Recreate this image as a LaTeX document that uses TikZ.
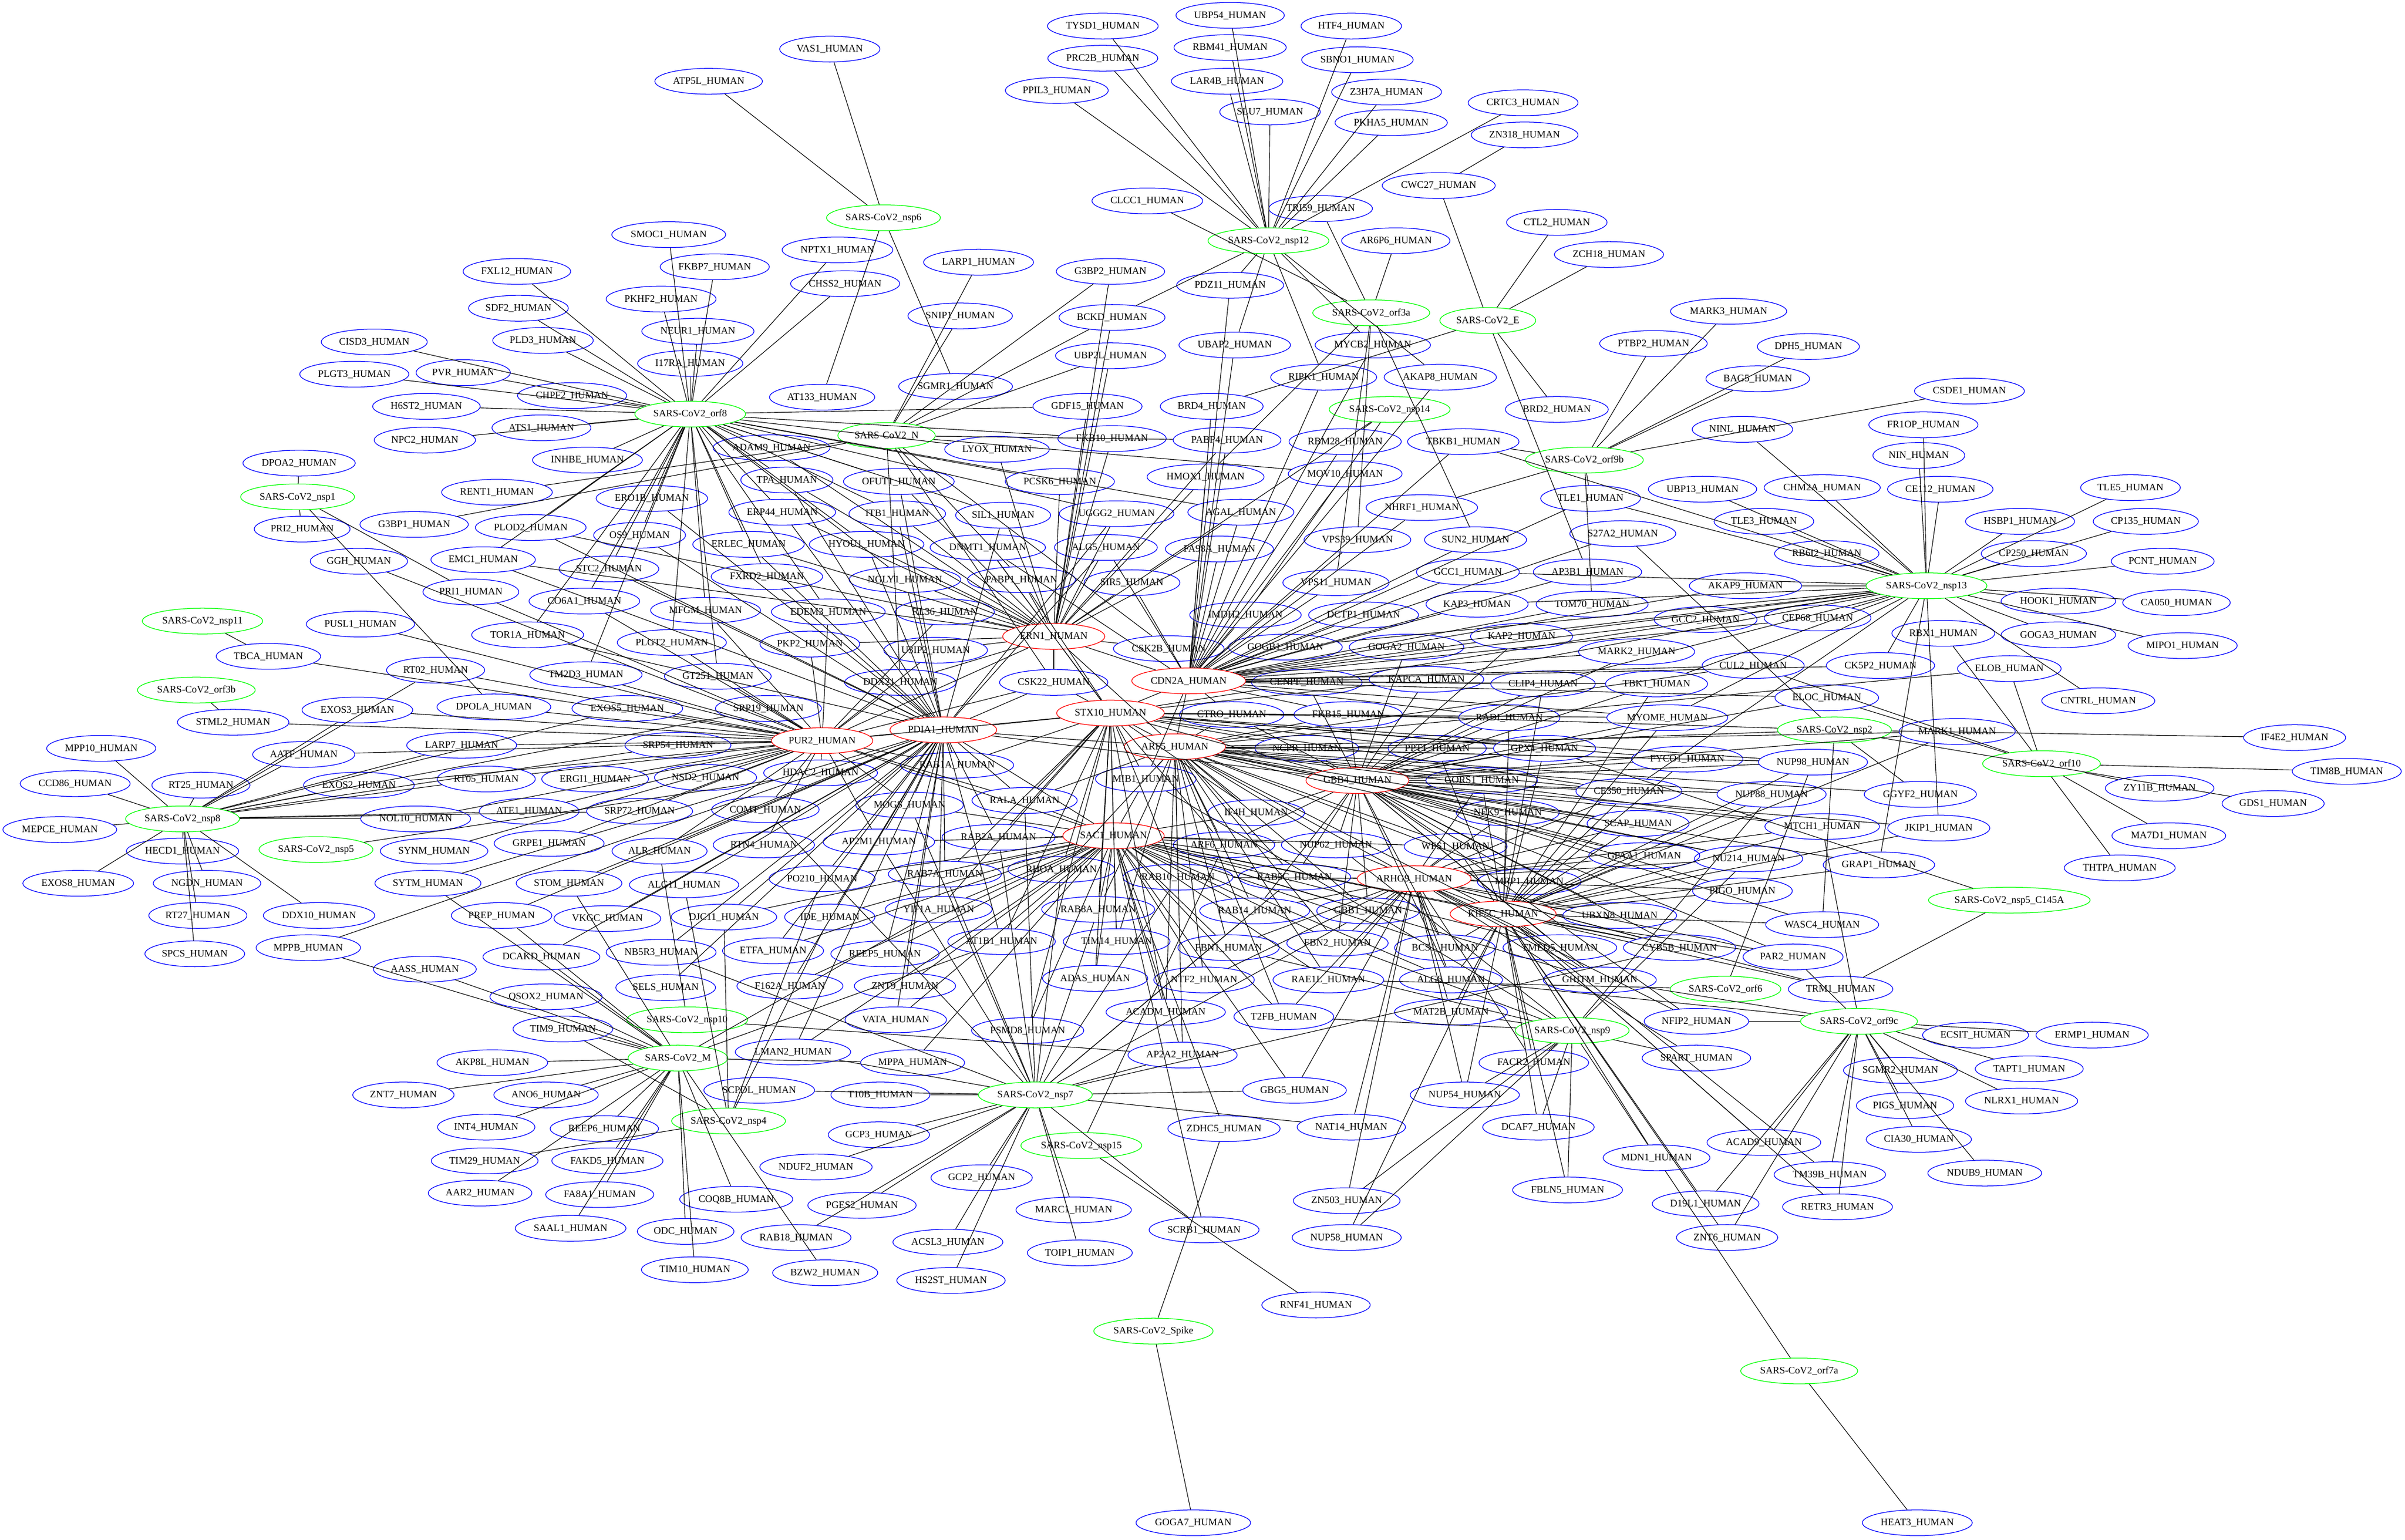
\documentclass[tikz,border=0pt]{standalone}
\usepackage{fontspec}
\setmainfont{Liberation Serif}
\usetikzlibrary{shapes.geometric}

\begin{document}
\begin{tikzpicture}[x=1pt,y=-1pt,
  prot/.style={ellipse,inner xsep=1.5pt,inner ysep=3.2pt,text height=4.6pt,text depth=0.9pt,
    font=\fontsize{6.5}{7}\selectfont,line width=0.45pt},
  hum/.style={prot,draw=blue},
  vir/.style={prot,draw=green},
  hub/.style={prot,draw=red},
  link/.style={line width=0.4pt}]
\useasboundingbox (0,0) rectangle (1568,1004);
% viral proteins
\node[vir] (vnsp6) at (576,142) {SARS-CoV2\_nsp6};
\node[vir] (vnsp12) at (827,157) {SARS-CoV2\_nsp12};
\node[vir] (vorf3a) at (894,204) {SARS-CoV2\_orf3a};
\node[vir] (vE) at (970,209) {SARS-CoV2\_E};
\node[vir] (vnsp14) at (906,267) {SARS-CoV2\_nsp14};
\node[vir] (vorf9b) at (1033,300) {SARS-CoV2\_orf9b};
\node[vir] (vnsp13) at (1256,382) {SARS-CoV2\_nsp13};
\node[vir] (vnsp2) at (1196,476) {SARS-CoV2\_nsp2};
\node[vir] (vorf10) at (1331,498) {SARS-CoV2\_orf10};
\node[vir] (vnsp5C) at (1310,587) {SARS-CoV2\_nsp5\_C145A};
\node[vir] (vorf6) at (1125,645) {SARS-CoV2\_orf6};
\node[vir] (vorf9c) at (1212,666) {SARS-CoV2\_orf9c};
\node[vir] (vnsp9) at (1025,672) {SARS-CoV2\_nsp9};
\node[vir] (vorf7a) at (1173,894) {SARS-CoV2\_orf7a};
\node[vir] (vSpike) at (752,868) {SARS-CoV2\_Spike};
\node[vir] (vnsp15) at (705,747) {SARS-CoV2\_nsp15};
\node[vir] (vnsp7) at (675,714) {SARS-CoV2\_nsp7};
\node[vir] (vnsp4) at (475,731) {SARS-CoV2\_nsp4};
\node[vir] (vM) at (442,690) {SARS-CoV2\_M};
\node[vir] (vnsp10) at (448,665) {SARS-CoV2\_nsp10};
\node[vir] (vnsp5) at (206,554) {SARS-CoV2\_nsp5};
\node[vir] (vnsp8) at (119,534) {SARS-CoV2\_nsp8};
\node[vir] (vorf3b) at (128,450) {SARS-CoV2\_orf3b};
\node[vir] (vnsp11) at (132,405) {SARS-CoV2\_nsp11};
\node[vir] (vnsp1) at (194,324) {SARS-CoV2\_nsp1};
\node[vir] (vorf8) at (450,270) {SARS-CoV2\_orf8};
\node[vir] (vN) at (578,284) {SARS-CoV2\_N};
% hub proteins
\node[hub] (PUR2) at (536,483) {PUR2\_HUMAN};
\node[hub] (PDIA1) at (615,476) {PDIA1\_HUMAN};
\node[hub] (ERN1) at (687,415) {ERN1\_HUMAN};
\node[hub] (CDN2A) at (775,444) {CDN2A\_HUMAN};
\node[hub] (STX10) at (724,465) {STX10\_HUMAN};
\node[hub] (ARF5) at (766,487) {ARF5\_HUMAN};
\node[hub] (SAC1) at (726,545) {SAC1\_HUMAN};
\node[hub] (GBB4) at (885,509) {GBB4\_HUMAN};
\node[hub] (ARHG9) at (922,573) {ARHG9\_HUMAN};
\node[hub] (KIF5C) at (980,596) {KIF5C\_HUMAN};
% human proteins, left and top
\node[hum] (ATP5L) at (462,53) {ATP5L\_HUMAN};
\node[hum] (VAS1) at (541,32) {VAS1\_HUMAN};
\node[hum] (SMOC1) at (436,153) {SMOC1\_HUMAN};
\node[hum] (NPTX1) at (546,163) {NPTX1\_HUMAN};
\node[hum] (FKBP7) at (466,174) {FKBP7\_HUMAN};
\node[hum] (CHSS2) at (551,185) {CHSS2\_HUMAN};
\node[hum] (LARP1) at (638,171) {LARP1\_HUMAN};
\node[hum] (PKHF2) at (431,195) {PKHF2\_HUMAN};
\node[hum] (SNIP1) at (626,206) {SNIP1\_HUMAN};
\node[hum] (NEUR1) at (455,216) {NEUR1\_HUMAN};
\node[hum] (I17RA) at (450,237) {I17RA\_HUMAN};
\node[hum] (SGMR1) at (623,252) {SGMR1\_HUMAN};
\node[hum] (AT133) at (536,259) {AT133\_HUMAN};
\node[hum] (FXL12) at (337,177) {FXL12\_HUMAN};
\node[hum] (SDF2) at (338,201) {SDF2\_HUMAN};
\node[hum] (CISD3) at (244,223) {CISD3\_HUMAN};
\node[hum] (PLD3) at (354,222) {PLD3\_HUMAN};
\node[hum] (PLGT3) at (231,244) {PLGT3\_HUMAN};
\node[hum] (PVR) at (302,243) {PVR\_HUMAN};
\node[hum] (CHPF2) at (373,258) {CHPF2\_HUMAN};
\node[hum] (H6ST2) at (278,265) {H6ST2\_HUMAN};
\node[hum] (ATS1) at (353,279) {ATS1\_HUMAN};
\node[hum] (NPC2) at (277,287) {NPC2\_HUMAN};
\node[hum] (INHBE) at (383,300) {INHBE\_HUMAN};
\node[hum] (DPOA2) at (195,302) {DPOA2\_HUMAN};
\node[hum] (RENT1) at (324,321) {RENT1\_HUMAN};
\node[hum] (ERO1B) at (425,325) {ERO1B\_HUMAN};
\node[hum] (PRI2) at (197,345) {PRI2\_HUMAN};
\node[hum] (G3BP1) at (270,342) {G3BP1\_HUMAN};
\node[hum] (PLOD2) at (346,344) {PLOD2\_HUMAN};
\node[hum] (OS9) at (417,349) {OS9\_HUMAN};
\node[hum] (GGH) at (234,366) {GGH\_HUMAN};
\node[hum] (EMC1) at (315,365) {EMC1\_HUMAN};
\node[hum] (STC2) at (397,371) {STC2\_HUMAN};
\node[hum] (PRI1) at (307,386) {PRI1\_HUMAN};
\node[hum] (CO6A1) at (381,392) {CO6A1\_HUMAN};
\node[hum] (PUSL1) at (235,407) {PUSL1\_HUMAN};
\node[hum] (TOR1A) at (344,414) {TOR1A\_HUMAN};
\node[hum] (TBCA) at (175,428) {TBCA\_HUMAN};
\node[hum] (RT02) at (284,437) {RT02\_HUMAN};
\node[hum] (TM2D3) at (382,440) {TM2D3\_HUMAN};
\node[hum] (DPOLA) at (322,461) {DPOLA\_HUMAN};
\node[hum] (EXOS3) at (233,463) {EXOS3\_HUMAN};
\node[hum] (STML2) at (152,471) {STML2\_HUMAN};
\node[hum] (EXOS5) at (409,462) {EXOS5\_HUMAN};
\node[hum] (MPP10) at (66,488) {MPP10\_HUMAN};
\node[hum] (LARP7) at (301,486) {LARP7\_HUMAN};
\node[hum] (AATF) at (198,492) {AATF\_HUMAN};
\node[hum] (CCD86) at (49,511) {CCD86\_HUMAN};
\node[hum] (RT25) at (131,512) {RT25\_HUMAN};
\node[hum] (EXOS2) at (234,512) {EXOS2\_HUMAN};
\node[hum] (RT05) at (317,508) {RT05\_HUMAN};
\node[hum] (ERGI1) at (388,508) {ERGI1\_HUMAN};
\node[hum] (MEPCE) at (39,541) {MEPCE\_HUMAN};
\node[hum] (NOL10) at (271,534) {NOL10\_HUMAN};
\node[hum] (ATE1) at (345,529) {ATE1\_HUMAN};
\node[hum] (SRP72) at (417,529) {SRP72\_HUMAN};
\node[hum] (HECD1) at (119,555) {HECD1\_HUMAN};
\node[hum] (SYNM) at (283,555) {SYNM\_HUMAN};
\node[hum] (GRPE1) at (358,550) {GRPE1\_HUMAN};
\node[hum] (EXOS8) at (51,576) {EXOS8\_HUMAN};
\node[hum] (NGDN) at (135,576) {NGDN\_HUMAN};
\node[hum] (SYTM) at (279,576) {SYTM\_HUMAN};
\node[hum] (STOM) at (371,576) {STOM\_HUMAN};
\node[hum] (RT27) at (129,597) {RT27\_HUMAN};
\node[hum] (DDX10) at (208,597) {DDX10\_HUMAN};
\node[hum] (PREP) at (327,597) {PREP\_HUMAN};
\node[hum] (VKGC) at (396,599) {VKGC\_HUMAN};
\node[hum] (SPCS) at (127,622) {SPCS\_HUMAN};
\node[hum] (MPPB) at (201,618) {MPPB\_HUMAN};
\node[hum] (DCAKD) at (353,624) {DCAKD\_HUMAN};
\node[hum] (AASS) at (277,632) {AASS\_HUMAN};
\node[hum] (QSOX2) at (356,650) {QSOX2\_HUMAN};
\node[hum] (TIM9) at (367,671) {TIM9\_HUMAN};
\node[hum] (AKP8L) at (321,693) {AKP8L\_HUMAN};
\node[hum] (ZNT7) at (263,714) {ZNT7\_HUMAN};
\node[hum] (ANO6) at (356,714) {ANO6\_HUMAN};
\node[hum] (INT4) at (317,735) {INT4\_HUMAN};
\node[hum] (REEP6) at (394,736) {REEP6\_HUMAN};
\node[hum] (TIM29) at (316,757) {TIM29\_HUMAN};
\node[hum] (FAKD5) at (396,757) {FAKD5\_HUMAN};
\node[hum] (AAR2) at (313,778) {AAR2\_HUMAN};
\node[hum] (FA8A1) at (391,779) {FA8A1\_HUMAN};
\node[hum] (SAAL1) at (372,801) {SAAL1\_HUMAN};
\node[hum] (COQ8B) at (480,782) {COQ8B\_HUMAN};
\node[hum] (ODC) at (447,803) {ODC\_HUMAN};
\node[hum] (TIM10) at (453,828) {TIM10\_HUMAN};
\node[hum] (RAB18) at (519,807) {RAB18\_HUMAN};
\node[hum] (BZW2) at (538,830) {BZW2\_HUMAN};
\node[hum] (LMAN2) at (517,686) {LMAN2\_HUMAN};
\node[hum] (MPPA) at (595,693) {MPPA\_HUMAN};
\node[hum] (SCPDL) at (495,711) {SCPDL\_HUMAN};
\node[hum] (T10B) at (574,714) {T10B\_HUMAN};
\node[hum] (GCP3) at (573,740) {GCP3\_HUMAN};
\node[hum] (NDUF2) at (532,761) {NDUF2\_HUMAN};
\node[hum] (GCP2) at (640,768) {GCP2\_HUMAN};
\node[hum] (PGES2) at (562,786) {PGES2\_HUMAN};
\node[hum] (MARC1) at (700,789) {MARC1\_HUMAN};
\node[hum] (ACSL3) at (618,810) {ACSL3\_HUMAN};
\node[hum] (TOIP1) at (704,817) {TOIP1\_HUMAN};
\node[hum] (HS2ST) at (620,835) {HS2ST\_HUMAN};
\node[hum] (SCRB1) at (785,802) {SCRB1\_HUMAN};
\node[hum] (RNF41) at (858,851) {RNF41\_HUMAN};
\node[hum] (GOGA7) at (778,993) {GOGA7\_HUMAN};
% human proteins, centre
\node[hum] (ADAM9) at (503,292) {ADAM9\_HUMAN};
\node[hum] (TPA) at (513,313) {TPA\_HUMAN};
\node[hum] (OFUT1) at (586,314) {OFUT1\_HUMAN};
\node[hum] (LYOX) at (650,293) {LYOX\_HUMAN};
\node[hum] (PCSK6) at (691,314) {PCSK6\_HUMAN};
\node[hum] (ERP44) at (510,334) {ERP44\_HUMAN};
\node[hum] (ITB1) at (585,335) {ITB1\_HUMAN};
\node[hum] (SIL1) at (654,336) {SIL1\_HUMAN};
\node[hum] (UGGG2) at (728,335) {UGGG2\_HUMAN};
\node[hum] (ERLEC) at (488,355) {ERLEC\_HUMAN};
\node[hum] (HYOU1) at (565,355) {HYOU1\_HUMAN};
\node[hum] (DNMT1) at (644,357) {DNMT1\_HUMAN};
\node[hum] (ALG5) at (721,357) {ALG5\_HUMAN};
\node[hum] (FXRD2) at (500,376) {FXRD2\_HUMAN};
\node[hum] (NGLY1) at (590,378) {NGLY1\_HUMAN};
\node[hum] (PABP1) at (666,378) {PABP1\_HUMAN};
\node[hum] (SIR5) at (738,380) {SIR5\_HUMAN};
\node[hum] (MFGM) at (460,398) {MFGM\_HUMAN};
\node[hum] (EDEM3) at (540,399) {EDEM3\_HUMAN};
\node[hum] (RL36) at (616,399) {RL36\_HUMAN};
\node[hum] (PLGT2) at (438,419) {PLGT2\_HUMAN};
\node[hum] (PKP2) at (528,420) {PKP2\_HUMAN};
\node[hum] (U3IP2) at (610,424) {U3IP2\_HUMAN};
\node[hum] (GT251) at (468,441) {GT251\_HUMAN};
\node[hum] (DDX21) at (587,445) {DDX21\_HUMAN};
\node[hum] (CSK22) at (687,445) {CSK22\_HUMAN};
\node[hum] (SRP19) at (501,462) {SRP19\_HUMAN};
\node[hum] (SRP54) at (442,486) {SRP54\_HUMAN};
\node[hum] (NSD2) at (460,507) {NSD2\_HUMAN};
\node[hum] (HDAC2) at (535,504) {HDAC2\_HUMAN};
\node[hum] (RAB1A) at (624,499) {RAB1A\_HUMAN};
\node[hum] (COMT) at (499,528) {COMT\_HUMAN};
\node[hum] (MOGS) at (593,525) {MOGS\_HUMAN};
\node[hum] (RALA) at (668,522) {RALA\_HUMAN};
\node[hum] (RTN4) at (498,551) {RTN4\_HUMAN};
\node[hum] (AP2M1) at (573,549) {AP2M1\_HUMAN};
\node[hum] (RAB2A) at (651,546) {RAB2A\_HUMAN};
\node[hum] (ALR) at (430,555) {ALR\_HUMAN};
\node[hum] (ALG11) at (446,577) {ALG11\_HUMAN};
\node[hum] (PO210) at (536,573) {PO210\_HUMAN};
\node[hum] (RAB7A) at (616,570) {RAB7A\_HUMAN};
\node[hum] (RHOA) at (692,567) {RHOA\_HUMAN};
\node[hum] (DJC11) at (472,598) {DJC11\_HUMAN};
\node[hum] (IDE) at (541,598) {IDE\_HUMAN};
\node[hum] (YIF1A) at (612,593) {YIF1A\_HUMAN};
\node[hum] (RAB8A) at (716,593) {RAB8A\_HUMAN};
\node[hum] (NB5R3) at (431,621) {NB5R3\_HUMAN};
\node[hum] (ETFA) at (504,620) {ETFA\_HUMAN};
\node[hum] (REEP5) at (577,622) {REEP5\_HUMAN};
\node[hum] (AT1B1) at (653,614) {AT1B1\_HUMAN};
\node[hum] (TIM14) at (728,614) {TIM14\_HUMAN};
\node[hum] (SELS) at (434,644) {SELS\_HUMAN};
\node[hum] (F162A) at (515,643) {F162A\_HUMAN};
\node[hum] (ZNT9) at (590,643) {ZNT9\_HUMAN};
\node[hum] (ADAS) at (714,638) {ADAS\_HUMAN};
\node[hum] (VATA) at (584,665) {VATA\_HUMAN};
\node[hum] (PSMD8) at (670,672) {PSMD8\_HUMAN};
\node[hum] (ACADM) at (760,660) {ACADM\_HUMAN};
\node[hum] (AP2A2) at (771,688) {AP2A2\_HUMAN};
\node[hum] (MIB1) at (747,508) {MIB1\_HUMAN};
\node[hum] (CSK2B) at (762,423) {CSK2B\_HUMAN};
% human proteins, top right
\node[hum] (G3BP2) at (724,177) {G3BP2\_HUMAN};
\node[hum] (BCKD) at (725,207) {BCKD\_HUMAN};
\node[hum] (UBP2L) at (724,232) {UBP2L\_HUMAN};
\node[hum] (GDF15) at (709,265) {GDF15\_HUMAN};
\node[hum] (FKB10) at (725,286) {FKB10\_HUMAN};
\node[hum] (CLCC1) at (748,131) {CLCC1\_HUMAN};
\node[hum] (TYSD1) at (719,17) {TYSD1\_HUMAN};
\node[hum] (PRC2B) at (719,38) {PRC2B\_HUMAN};
\node[hum] (PPIL3) at (689,59) {PPIL3\_HUMAN};
\node[hum] (UBP54) at (802,10) {UBP54\_HUMAN};
\node[hum] (HTF4) at (881,17) {HTF4\_HUMAN};
\node[hum] (RBM41) at (802,31) {RBM41\_HUMAN};
\node[hum] (SBNO1) at (885,39) {SBNO1\_HUMAN};
\node[hum] (LAR4B) at (800,53) {LAR4B\_HUMAN};
\node[hum] (Z3H7A) at (904,60) {Z3H7A\_HUMAN};
\node[hum] (SLU7) at (828,73) {SLU7\_HUMAN};
\node[hum] (PKHA5) at (907,80) {PKHA5\_HUMAN};
\node[hum] (CRTC3) at (993,67) {CRTC3\_HUMAN};
\node[hum] (ZN318) at (994,88) {ZN318\_HUMAN};
\node[hum] (CWC27) at (938,121) {CWC27\_HUMAN};
\node[hum] (TRI59) at (861,136) {TRI59\_HUMAN};
\node[hum] (AR6P6) at (910,157) {AR6P6\_HUMAN};
\node[hum] (CTL2) at (1015,145) {CTL2\_HUMAN};
\node[hum] (ZCH18) at (1049,166) {ZCH18\_HUMAN};
\node[hum] (PDZ11) at (802,186) {PDZ11\_HUMAN};
\node[hum] (MARK3) at (1127,203) {MARK3\_HUMAN};
\node[hum] (UBAP2) at (805,225) {UBAP2\_HUMAN};
\node[hum] (MYCB2) at (895,225) {MYCB2\_HUMAN};
\node[hum] (PTBP2) at (1078,224) {PTBP2\_HUMAN};
\node[hum] (DPH5) at (1179,226) {DPH5\_HUMAN};
\node[hum] (RIPK1) at (863,246) {RIPK1\_HUMAN};
\node[hum] (AKAP8) at (939,246) {AKAP8\_HUMAN};
\node[hum] (BAG5) at (1146,247) {BAG5\_HUMAN};
\node[hum] (CSDE1) at (1284,255) {CSDE1\_HUMAN};
\node[hum] (BRD4) at (790,265) {BRD4\_HUMAN};
\node[hum] (BRD2) at (1015,267) {BRD2\_HUMAN};
\node[hum] (FR1OP) at (1254,277) {FR1OP\_HUMAN};
\node[hum] (NINL) at (1136,280) {NINL\_HUMAN};
\node[hum] (PABP4) at (800,287) {PABP4\_HUMAN};
\node[hum] (RBM28) at (877,288) {RBM28\_HUMAN};
\node[hum] (TBKB1) at (954,288) {TBKB1\_HUMAN};
\node[hum] (NIN) at (1251,297) {NIN\_HUMAN};
\node[hum] (HMOX1) at (786,311) {HMOX1\_HUMAN};
\node[hum] (MOV10) at (877,309) {MOV10\_HUMAN};
\node[hum] (UBP13) at (1110,319) {UBP13\_HUMAN};
\node[hum] (CHM2A) at (1188,318) {CHM2A\_HUMAN};
\node[hum] (CE112) at (1265,319) {CE112\_HUMAN};
\node[hum] (TLE5) at (1389,318) {TLE5\_HUMAN};
\node[hum] (TLE1) at (1037,325) {TLE1\_HUMAN};
\node[hum] (NHRF1) at (927,331) {NHRF1\_HUMAN};
\node[hum] (AGAL) at (809,334) {AGAL\_HUMAN};
\node[hum] (HSBP1) at (1317,340) {HSBP1\_HUMAN};
\node[hum] (CP135) at (1399,340) {CP135\_HUMAN};
\node[hum] (TLE3) at (1150,340) {TLE3\_HUMAN};
\node[hum] (S27A2) at (1058,348) {S27A2\_HUMAN};
\node[hum] (VPS39) at (885,352) {VPS39\_HUMAN};
\node[hum] (SUN2) at (962,352) {SUN2\_HUMAN};
\node[hum] (FA98A) at (795,358) {FA98A\_HUMAN};
\node[hum] (RB6I2) at (1191,361) {RB6I2\_HUMAN};
\node[hum] (CP250) at (1326,361) {CP250\_HUMAN};
\node[hum] (PCNT) at (1410,366) {PCNT\_HUMAN};
\node[hum] (GCC1) at (957,373) {GCC1\_HUMAN};
\node[hum] (AP3B1) at (1035,373) {AP3B1\_HUMAN};
\node[hum] (VPS11) at (871,380) {VPS11\_HUMAN};
\node[hum] (AKAP9) at (1138,382) {AKAP9\_HUMAN};
\node[hum] (HOOK1) at (1342,392) {HOOK1\_HUMAN};
\node[hum] (CA050) at (1419,393) {CA050\_HUMAN};
\node[hum] (KAP3) at (963,394) {KAP3\_HUMAN};
\node[hum] (TOM70) at (1038,394) {TOM70\_HUMAN};
\node[hum] (IMDH2) at (812,401) {IMDH2\_HUMAN};
\node[hum] (DCTP1) at (889,401) {DCTP1\_HUMAN};
\node[hum] (CEP68) at (1185,403) {CEP68\_HUMAN};
\node[hum] (GCC2) at (1112,404) {GCC2\_HUMAN};
\node[hum] (RBX1) at (1267,413) {RBX1\_HUMAN};
\node[hum] (GOGA3) at (1342,414) {GOGA3\_HUMAN};
\node[hum] (KAP2) at (992,415) {KAP2\_HUMAN};
\node[hum] (MIPO1) at (1423,421) {MIPO1\_HUMAN};
\node[hum] (GOGB1) at (838,422) {GOGB1\_HUMAN};
\node[hum] (GOGA2) at (917,422) {GOGA2\_HUMAN};
\node[hum] (MARK2) at (1067,425) {MARK2\_HUMAN};
\node[hum] (CUL2) at (1143,434) {CUL2\_HUMAN};
\node[hum] (CK5P2) at (1226,434) {CK5P2\_HUMAN};
\node[hum] (ELOB) at (1310,436) {ELOB\_HUMAN};
\node[hum] (KAPCA) at (930,443) {KAPCA\_HUMAN};
\node[hum] (CENPF) at (852,445) {CENPF\_HUMAN};
\node[hum] (CLIP4) at (1006,446) {CLIP4\_HUMAN};
\node[hum] (TBK1) at (1080,446) {TBK1\_HUMAN};
\node[hum] (ELOC) at (1191,455) {ELOC\_HUMAN};
\node[hum] (CNTRL) at (1368,457) {CNTRL\_HUMAN};
% human proteins, right
\node[hum] (CTRO) at (803,466) {CTRO\_HUMAN};
\node[hum] (FKB15) at (879,466) {FKB15\_HUMAN};
\node[hum] (RADI) at (984,468) {RADI\_HUMAN};
\node[hum] (MYOME) at (1087,468) {MYOME\_HUMAN};
\node[hum] (NCPR) at (852,488) {NCPR\_HUMAN};
\node[hum] (PPT1) at (937,488) {PPT1\_HUMAN};
\node[hum] (GPX1) at (1007,488) {GPX1\_HUMAN};
\node[hum] (FYCO1) at (1100,495) {FYCO1\_HUMAN};
\node[hum] (NUP98) at (1182,497) {NUP98\_HUMAN};
\node[hum] (MARK1) at (1276,477) {MARK1\_HUMAN};
\node[hum] (IF4E2) at (1496,481) {IF4E2\_HUMAN};
\node[hum] (TIM8B) at (1530,503) {TIM8B\_HUMAN};
\node[hum] (GORS1) at (966,509) {GORS1\_HUMAN};
\node[hum] (ZY11B) at (1408,514) {ZY11B\_HUMAN};
\node[hum] (CE350) at (1062,516) {CE350\_HUMAN};
\node[hum] (NUP88) at (1155,518) {NUP88\_HUMAN};
\node[hum] (GGYF2) at (1252,518) {GGYF2\_HUMAN};
\node[hum] (GDS1) at (1482,524) {GDS1\_HUMAN};
\node[hum] (IF4H) at (819,530) {IF4H\_HUMAN};
\node[hum] (NEK9) at (983,530) {NEK9\_HUMAN};
\node[hum] (SCAP) at (1068,537) {SCAP\_HUMAN};
\node[hum] (MTCH1) at (1188,539) {MTCH1\_HUMAN};
\node[hum] (JKIP1) at (1264,540) {JKIP1\_HUMAN};
\node[hum] (MA7D1) at (1414,545) {MA7D1\_HUMAN};
\node[hum] (ARF6) at (798,551) {ARF6\_HUMAN};
\node[hum] (NUP62) at (871,551) {NUP62\_HUMAN};
\node[hum] (WFS1) at (949,552) {WFS1\_HUMAN};
\node[hum] (GPAA1) at (1072,558) {GPAA1\_HUMAN};
\node[hum] (NU214) at (1140,560) {NU214\_HUMAN};
\node[hum] (GRAP1) at (1225,564) {GRAP1\_HUMAN};
\node[hum] (THTPA) at (1382,566) {THTPA\_HUMAN};
\node[hum] (RAB10) at (768,572) {RAB10\_HUMAN};
\node[hum] (RAB5C) at (844,572) {RAB5C\_HUMAN};
\node[hum] (MRP1) at (997,575) {MRP1\_HUMAN};
\node[hum] (PIGO) at (1136,581) {PIGO\_HUMAN};
\node[hum] (RAB14) at (818,594) {RAB14\_HUMAN};
\node[hum] (GBB1) at (892,594) {GBB1\_HUMAN};
\node[hum] (UBXN8) at (1056,597) {UBXN8\_HUMAN};
\node[hum] (WASC4) at (1188,603) {WASC4\_HUMAN};
\node[hum] (FBN1) at (801,618) {FBN1\_HUMAN};
\node[hum] (FBN2) at (872,615) {FBN2\_HUMAN};
\node[hum] (BCS1) at (942,618) {BCS1\_HUMAN};
\node[hum] (TMED5) at (1017,618) {TMED5\_HUMAN};
\node[hum] (CYB5B) at (1095,618) {CYB5B\_HUMAN};
\node[hum] (PAR2) at (1169,624) {PAR2\_HUMAN};
\node[hum] (NTF2) at (785,639) {NTF2\_HUMAN};
\node[hum] (RAE1L) at (866,639) {RAE1L\_HUMAN};
\node[hum] (ALG8) at (946,639) {ALG8\_HUMAN};
\node[hum] (GHITM) at (1043,639) {GHITM\_HUMAN};
\node[hum] (TRM1) at (1200,645) {TRM1\_HUMAN};
\node[hum] (T2FB) at (837,663) {T2FB\_HUMAN};
\node[hum] (MAT2B) at (946,660) {MAT2B\_HUMAN};
\node[hum] (NFIP2) at (1106,666) {NFIP2\_HUMAN};
\node[hum] (ECSIT) at (1288,675) {ECSIT\_HUMAN};
\node[hum] (ERMP1) at (1364,675) {ERMP1\_HUMAN};
\node[hum] (FACR2) at (1000,693) {FACR2\_HUMAN};
\node[hum] (SPART) at (1106,690) {SPART\_HUMAN};
\node[hum] (SGMR2) at (1239,698) {SGMR2\_HUMAN};
\node[hum] (TAPT1) at (1323,697) {TAPT1\_HUMAN};
\node[hum] (GBG5) at (844,711) {GBG5\_HUMAN};
\node[hum] (NUP54) at (955,714) {NUP54\_HUMAN};
\node[hum] (PIGS) at (1242,721) {PIGS\_HUMAN};
\node[hum] (NLRX1) at (1318,718) {NLRX1\_HUMAN};
\node[hum] (ZDHC5) at (798,736) {ZDHC5\_HUMAN};
\node[hum] (NAT14) at (881,735) {NAT14\_HUMAN};
\node[hum] (DCAF7) at (1003,735) {DCAF7\_HUMAN};
\node[hum] (ACAD9) at (1150,745) {ACAD9\_HUMAN};
\node[hum] (CIA30) at (1251,743) {CIA30\_HUMAN};
\node[hum] (MDN1) at (1080,755) {MDN1\_HUMAN};
\node[hum] (TM39B) at (1193,766) {TM39B\_HUMAN};
\node[hum] (NDUB9) at (1294,765) {NDUB9\_HUMAN};
\node[hum] (FBLN5) at (1022,776) {FBLN5\_HUMAN};
\node[hum] (ZN503) at (878,783) {ZN503\_HUMAN};
\node[hum] (D19L1) at (1112,785) {D19L1\_HUMAN};
\node[hum] (RETR3) at (1198,787) {RETR3\_HUMAN};
\node[hum] (NUP58) at (878,807) {NUP58\_HUMAN};
\node[hum] (ZNT6) at (1126,807) {ZNT6\_HUMAN};
\node[hum] (HEAT3) at (1250,993) {HEAT3\_HUMAN};
% virus-host links
\draw[link] (vnsp6) edge (ATP5L) edge (VAS1) edge (AT133) edge (SGMR1);
\draw[link] (vorf8) edge (SMOC1) edge (FKBP7) edge (PKHF2) edge (NEUR1) edge (I17RA) edge (NPTX1)
  edge (CHSS2) edge (FXL12) edge (SDF2) edge (PLD3) edge (CISD3) edge (PLGT3) edge (PVR) edge (CHPF2)
  edge (H6ST2) edge (ATS1) edge (NPC2) edge (INHBE) edge (ERO1B) edge (ADAM9) edge (TPA) edge (ERP44)
  edge (ERLEC) edge (OS9) edge (GDF15) edge (FKB10) edge (PCSK6) edge (LYOX) edge (OFUT1) edge (ITB1)
  edge (HYOU1) edge (SIL1) edge (UGGG2) edge (EDEM3) edge (FXRD2) edge (MFGM) edge (PLGT2) edge (STC2)
  edge (CO6A1) edge (TOR1A) edge (TM2D3) edge (EMC1) edge (PLOD2) edge (NGLY1) edge (GT251) edge (AGAL);
\draw[link] (vN) edge (G3BP1) edge (G3BP2) edge (LARP1) edge (SNIP1) edge (UBP2L) edge (BCKD) edge (RENT1)
  edge (CSK22) edge (CSK2B) edge (PABP1) edge (PABP4) edge (MOV10) edge (DDX21);
\draw[link] (vnsp12) edge (UBP54) edge (RBM41) edge (HTF4) edge (SBNO1) edge (Z3H7A) edge (PKHA5) edge (SLU7)
  edge (LAR4B) edge (TYSD1) edge (PRC2B) edge (PPIL3) edge (CRTC3) edge (PDZ11) edge (RIPK1) edge (MYCB2)
  edge (AKAP8) edge (UBAP2) edge (BCKD);
\draw[link] (vorf3a) edge (TRI59) edge (AR6P6) edge (CLCC1) edge (HMOX1) edge (VPS11) edge (VPS39) edge (SUN2);
\draw[link] (vE) edge (CWC27) edge (CTL2) edge (ZCH18) edge (BRD2) edge (BRD4) edge (AP3B1);
\draw[link] (CWC27) -- (ZN318);
\draw[link] (vnsp14) edge (IMDH2) edge (SIR5) edge (RBM28);
\draw[link] (vorf9b) edge (PTBP2) edge (MARK3) edge (DPH5) edge (BAG5) edge (CSDE1) edge (TBKB1) edge (NHRF1)
  edge (TOM70) edge (TLE1);
\draw[link] (vnsp13) edge (AKAP9) edge (CEP68) edge (CP135) edge (CP250) edge (CNTRL) edge (GOGA2) edge (GOGB1)
  edge (GOGA3) edge (MIPO1) edge (NIN) edge (NINL) edge (PCNT) edge (KAP2) edge (KAP3) edge (KAPCA) edge (TBK1)
  edge (TBKB1) edge (CLIP4) edge (CK5P2) edge (MYOME) edge (CENPF) edge (GCC1) edge (GCC2) edge (HOOK1)
  edge (TLE1) edge (TLE3) edge (TLE5) edge (UBP13) edge (RB6I2) edge (CA050) edge (HSBP1) edge (CHM2A)
  edge (FR1OP) edge (CE112) edge (CE350) edge (JKIP1) edge (GRAP1);
\draw[link] (vnsp2) edge (IF4E2) edge (GGYF2) edge (WASC4) edge (NCPR) edge (GDS1) edge (S27A2) edge (FKB15);
\draw[link] (vorf10) edge (ELOB) edge (ELOC) edge (CUL2) edge (RBX1) edge (ZY11B) edge (MA7D1) edge (THTPA) edge (TIM8B);
\draw[link] (vnsp5C) edge (TRM1) edge (GPX1);
\draw[link] (vnsp5) -- (HDAC2);
\draw[link] (vorf6) edge (NUP98) edge (RAE1L);
\draw[link] (vorf9c) edge (ECSIT) edge (ERMP1) edge (SGMR2) edge (TAPT1) edge (NLRX1) edge (PIGS) edge (CIA30)
  edge (TM39B) edge (NDUB9) edge (RETR3) edge (ACAD9) edge (D19L1) edge (ZNT6) edge (ALG8) edge (GHITM)
  edge (PAR2) edge (NFIP2) edge (MTCH1);
\draw[link] (vnsp9) edge (NUP62) edge (NUP54) edge (NUP58) edge (NUP88) edge (MAT2B) edge (FBN1) edge (FBN2)
  edge (FBLN5) edge (MDN1) edge (DCAF7) edge (FACR2) edge (SPART) edge (ZN503) edge (T2FB) edge (MIB1) edge (NU214);
\draw[link] (vnsp7) edge (RAB2A) edge (RAB5C) edge (RAB7A) edge (RAB8A) edge (RAB10) edge (RAB14) edge (RAB18)
  edge (RALA) edge (RHOA) edge (PGES2) edge (GBB1) edge (GBG5) edge (NDUF2) edge (SCRB1) edge (ACSL3) edge (LMAN2)
  edge (MOGS) edge (COMT) edge (AP2A2) edge (AP2M1) edge (NB5R3) edge (HS2ST) edge (MARC1) edge (TOIP1)
  edge (GCP2) edge (GCP3) edge (T10B) edge (SCPDL) edge (NAT14) edge (CYB5B);
\draw[link] (vnsp15) edge (RNF41) edge (ARF6);
\draw[link] (vSpike) edge (GOGA7) edge (ZDHC5);
\draw[link] (vorf7a) edge (HEAT3) edge (MDN1);
\draw[link] (vnsp10) edge (ALR) edge (AP2A2);
\draw[link] (vM) edge (AKP8L) edge (ZNT7) edge (ANO6) edge (INT4) edge (REEP6) edge (FAKD5) edge (FA8A1)
  edge (SAAL1) edge (COQ8B) edge (ODC) edge (TIM10) edge (BZW2) edge (AAR2) edge (TIM9) edge (QSOX2) edge (AASS)
  edge (MPPB) edge (SYTM) edge (DCAKD) edge (MPPA) edge (STOM) edge (YIF1A) edge (AT1B1) edge (PREP);
\draw[link] (vnsp4) edge (TIM29) edge (TIM9) edge (IDE) edge (DJC11) edge (ALG11) edge (PO210);
\draw[link] (vnsp8) edge (MPP10) edge (CCD86) edge (MEPCE) edge (RT25) edge (HECD1) edge (EXOS8) edge (NGDN)
  edge (RT27) edge (SPCS) edge (DDX10) edge (AATF) edge (EXOS3) edge (EXOS2) edge (RT02) edge (LARP7) edge (RT05)
  edge (NOL10) edge (ATE1) edge (SRP72) edge (SRP54) edge (SRP19) edge (EXOS5);
\draw[link] (vnsp1) edge (DPOA2) edge (PRI2) edge (PRI1) edge (DPOLA);
\draw[link] (vnsp11) -- (TBCA);
\draw[link] (vorf3b) -- (STML2);
% host-host links around the hubs
\draw[link] (PUR2) edge (TBCA) edge (STML2) edge (EXOS3) edge (PUSL1) edge (RT02) edge (DPOLA) edge (LARP7)
  edge (AATF) edge (EXOS2) edge (RT05) edge (GGH) edge (PRI1) edge (TM2D3) edge (EXOS5) edge (SRP54) edge (SRP19)
  edge (NSD2) edge (HDAC2) edge (GT251) edge (PLGT2) edge (CO6A1) edge (MFGM) edge (PKP2) edge (DDX21) edge (ERGI1)
  edge (SRP72) edge (COMT) edge (RTN4) edge (ALR) edge (NOL10) edge (ATE1) edge (SYNM) edge (GRPE1) edge (RAB1A)
  edge (MOGS) edge (RALA) edge (AP2M1) edge (CSK22) edge (U3IP2) edge (EDEM3) edge (PDIA1) edge (ERN1)
  edge (STX10) edge (SAC1) edge (RL36);
\draw[link] (PDIA1) edge (ERO1B) edge (ERP44) edge (ERLEC) edge (OS9) edge (HYOU1) edge (TPA) edge (ITB1) edge (OFUT1)
  edge (FXRD2) edge (NGLY1) edge (TOR1A) edge (PLOD2) edge (STC2) edge (EMC1) edge (SIL1) edge (UGGG2) edge (ALG5)
  edge (RAB1A) edge (RAB2A) edge (RAB7A) edge (RALA) edge (MOGS) edge (AP2M1) edge (PO210) edge (IDE) edge (DJC11)
  edge (ALG11) edge (ETFA) edge (F162A) edge (REEP5) edge (ZNT9) edge (VATA) edge (AT1B1) edge (YIF1A) edge (SELS)
  edge (NB5R3) edge (STOM) edge (VKGC) edge (ALR) edge (LMAN2) edge (ARF5) edge (SAC1) edge (STX10) edge (GBB4)
  edge (CSK22) edge (DDX21) edge (PREP) edge (SYTM) edge (MPPB) edge (DCAKD);
\draw[link] (ERN1) edge (CSK22) edge (CSK2B) edge (PABP1) edge (PABP4) edge (DNMT1) edge (SIR5) edge (SIL1) edge (ALG5)
  edge (UGGG2) edge (FA98A) edge (AGAL) edge (HMOX1) edge (LYOX) edge (PCSK6) edge (FKB10) edge (GDF15) edge (OFUT1)
  edge (ITB1) edge (HYOU1) edge (NGLY1) edge (RL36) edge (U3IP2) edge (PKP2) edge (DDX21) edge (ERP44) edge (TPA)
  edge (ADAM9) edge (EMC1) edge (CDN2A) edge (STX10) edge (ARF5) edge (G3BP2) edge (BCKD) edge (UBP2L) edge (PLOD2)
  edge (ERLEC);
\draw[link] (CDN2A) edge (CSK2B) edge (IMDH2) edge (GOGB1) edge (CENPF) edge (CTRO) edge (FKB15) edge (KAPCA)
  edge (GOGA2) edge (VPS11) edge (DCTP1) edge (VPS39) edge (FA98A) edge (AGAL) edge (HMOX1) edge (BRD4) edge (PABP4)
  edge (RBM28) edge (MOV10) edge (RIPK1) edge (UBAP2) edge (PDZ11) edge (MYCB2) edge (SIR5) edge (DNMT1) edge (ALG5)
  edge (NHRF1) edge (SUN2) edge (KAP3) edge (KAP2) edge (GCC1) edge (AP3B1) edge (TOM70) edge (MARK2) edge (GCC2)
  edge (TBK1) edge (CLIP4) edge (CUL2) edge (ELOC) edge (CK5P2) edge (CEP68) edge (AKAP9) edge (ARF5) edge (STX10)
  edge (MIB1) edge (RADI) edge (MYOME) edge (TLE1) edge (S27A2) edge (AKAP8) edge (TBKB1);
\draw[link] (STX10) edge (CSK22) edge (RALA) edge (RAB1A) edge (MIB1) edge (RAB2A) edge (SAC1) edge (ARF5) edge (CTRO)
  edge (NCPR) edge (IF4H) edge (RHOA) edge (RAB8A) edge (TIM14) edge (ARF6) edge (RAB10) edge (RAB7A) edge (YIF1A)
  edge (AT1B1) edge (ADAS) edge (ACADM) edge (PSMD8) edge (GBB4) edge (PPT1) edge (RADI) edge (GPX1) edge (MYOME)
  edge (FYCO1) edge (NUP98) edge (CE350) edge (KAPCA) edge (CENPF) edge (FKB15) edge (DNMT1) edge (PABP1);
\draw[link] (ARF5) edge (MIB1) edge (RALA) edge (IF4H) edge (ARF6) edge (NUP62) edge (RAB10) edge (RAB5C) edge (RAB14)
  edge (FBN1) edge (NTF2) edge (TIM14) edge (RHOA) edge (RAB8A) edge (ACADM) edge (AP2A2) edge (T2FB) edge (FBN2)
  edge (RAE1L) edge (GBB1) edge (GBB4) edge (NCPR) edge (CTRO) edge (FKB15) edge (PPT1) edge (GPX1) edge (GORS1)
  edge (NEK9) edge (WFS1) edge (ARHG9) edge (KIF5C) edge (MRP1) edge (NUP88) edge (NUP98) edge (SCAP) edge (GPAA1)
  edge (NU214) edge (MTCH1) edge (GGYF2) edge (MARK1) edge (CUL2) edge (ELOB) edge (CE350) edge (FYCO1);
\draw[link] (SAC1) edge (RAB2A) edge (RAB7A) edge (RHOA) edge (RAB8A) edge (AT1B1) edge (TIM14) edge (ADAS) edge (NTF2)
  edge (ACADM) edge (FBN1) edge (RAB10) edge (ARF6) edge (IF4H) edge (MIB1) edge (RALA) edge (MOGS) edge (AP2M1)
  edge (PO210) edge (YIF1A) edge (REEP5) edge (ZNT9) edge (VATA) edge (PSMD8) edge (AP2A2) edge (GBG5) edge (ZDHC5)
  edge (SCRB1) edge (T2FB) edge (RAB14) edge (RAB5C) edge (NUP62) edge (GBB1) edge (FBN2) edge (RAE1L) edge (BCS1)
  edge (ALG8) edge (ARHG9) edge (KIF5C) edge (WFS1) edge (TMED5) edge (CYB5B) edge (GHITM) edge (ETFA) edge (F162A)
  edge (IDE) edge (DJC11) edge (MPPA) edge (LMAN2);
\draw[link] (GBB4) edge (NCPR) edge (PPT1) edge (GORS1) edge (NEK9) edge (WFS1) edge (KAPCA) edge (CLIP4) edge (RADI)
  edge (GPX1) edge (MYOME) edge (FYCO1) edge (CE350) edge (SCAP) edge (GPAA1) edge (NU214) edge (PIGO) edge (MRP1)
  edge (UBXN8) edge (TMED5) edge (CYB5B) edge (GHITM) edge (ALG8) edge (BCS1) edge (FBN2) edge (GBB1) edge (RAB5C)
  edge (RAB14) edge (NUP62) edge (ARF6) edge (IF4H) edge (CTRO) edge (FKB15) edge (CENPF) edge (GOGA2) edge (KAP2)
  edge (TBK1) edge (MARK2) edge (ELOC) edge (MARK1) edge (JKIP1) edge (GRAP1) edge (PAR2) edge (NFIP2) edge (WASC4)
  edge (MTCH1) edge (NUP98) edge (NUP88);
\draw[link] (ARHG9) edge (RAB5C) edge (NUP62) edge (GBB1) edge (FBN2) edge (RAE1L) edge (BCS1) edge (ALG8) edge (MAT2B)
  edge (WFS1) edge (NEK9) edge (GORS1) edge (MRP1) edge (KIF5C) edge (TMED5) edge (UBXN8) edge (CYB5B) edge (GHITM)
  edge (NFIP2) edge (PIGO) edge (GPAA1) edge (SCAP) edge (CE350) edge (RAB14) edge (NTF2) edge (T2FB) edge (GBG5)
  edge (NAT14) edge (FACR2) edge (NUP54) edge (ZN503) edge (SPART) edge (TRM1) edge (PAR2) edge (NU214) edge (MTCH1)
  edge (RAB10) edge (FBN1);
\draw[link] (KIF5C) edge (MRP1) edge (UBXN8) edge (TMED5) edge (CYB5B) edge (GHITM) edge (BCS1) edge (ALG8) edge (MAT2B)
  edge (FACR2) edge (DCAF7) edge (FBLN5) edge (NUP58) edge (NUP54) edge (WFS1) edge (NEK9) edge (GORS1) edge (PPT1)
  edge (GPX1) edge (RADI) edge (CLIP4) edge (MYOME) edge (TBK1) edge (CE350) edge (SCAP) edge (GPAA1) edge (NU214)
  edge (PIGO) edge (WASC4) edge (PAR2) edge (TRM1) edge (JKIP1) edge (GRAP1) edge (MTCH1) edge (NUP88) edge (NUP98)
  edge (FYCO1) edge (MARK1) edge (MDN1) edge (D19L1) edge (ACAD9) edge (TM39B) edge (RETR3) edge (ZNT6);
\end{tikzpicture}
\end{document}
